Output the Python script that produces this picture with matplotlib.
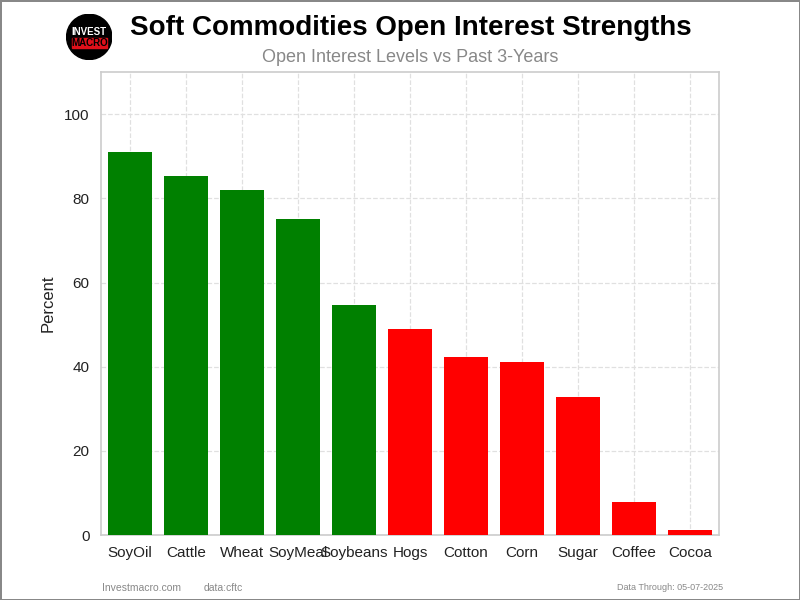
import matplotlib
matplotlib.use("Agg")
import matplotlib.pyplot as plt
from matplotlib.patches import Circle, Rectangle

plt.rcParams['font.family'] = ['Liberation Sans', 'DejaVu Sans']

commodities = ['SoyOil', 'Cattle', 'Wheat', 'SoyMeal', 'Soybeans', 'Hogs',
               'Cotton', 'Corn', 'Sugar', 'Coffee', 'Cocoa']
strength = [90.9, 85.2, 81.9, 75.2, 54.7, 48.9, 42.2, 41.1, 32.9, 7.9, 1.2]

colors = ['green' if v > 50 else 'red' for v in strength]

fig = plt.figure(figsize=(8, 6), dpi=100, edgecolor='#888888', linewidth=2)
ax = fig.add_axes([0.126, 0.108, 0.773, 0.772])

ax.bar(range(len(commodities)), strength, width=0.8, color=colors, zorder=3)
ax.set_xticks(range(len(commodities)))
ax.set_xticklabels(commodities, fontsize=11, color='#222222')
ax.set_xlim(-0.52, 10.52)
ax.set_ylim(0, 110)
ax.set_yticks([0, 20, 40, 60, 80, 100])
ax.tick_params(axis='y', labelsize=11, colors='#222222', length=0, pad=8)
ax.tick_params(axis='x', length=0, pad=8)
ax.set_ylabel('Percent', fontsize=12, color='#222222', labelpad=6)
ax.grid(True, linestyle='--', color='#e0e0e0', linewidth=0.9, zorder=0)
for s in ax.spines.values():
    s.set_color('#cccccc')
    s.set_linewidth(1.2)

fig.text(0.513, 0.953, 'Soft Commodities Open Interest Strengths', ha='center', va='center',
         fontsize=20, fontweight='bold', color='black')
fig.text(0.513, 0.905, 'Open Interest Levels vs Past 3-Years', ha='center', va='center',
         fontsize=13, color='#888888')

# logo
lax = fig.add_axes([0.0825, 0.9, 0.058, 0.077])
lax.set_xlim(-1, 1)
lax.set_ylim(-1, 1)
lax.set_aspect('equal')
lax.axis('off')
lax.add_patch(Circle((0, 0), 0.98, color='black'))
lax.add_patch(Rectangle((-0.76, -0.5), 1.52, 0.46, color='#e0101a'))
lax.text(0, 0.2, 'INVEST', ha='center', va='center', color='white', fontsize=7, fontweight='bold')
lax.text(0, -0.27, 'MACRO', ha='center', va='center', color='black', fontsize=7, fontweight='bold')

fig.text(0.127, 0.02, 'Investmacro.com', fontsize=7.5, color='#888888', va='center')
fig.text(0.254, 0.02, 'data:cftc', fontsize=7.5, color='#888888', va='center')
fig.text(0.904, 0.02, 'Data Through: 05-07-2025', fontsize=6.5, color='#888888', va='center', ha='right')

fig.savefig('out.png', dpi=100, edgecolor=fig.get_edgecolor())
